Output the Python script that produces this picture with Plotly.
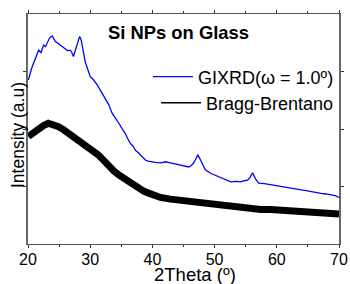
import plotly.graph_objects as go

# GIXRD (omega = 1.0 deg) - blue
gix_x = [20.05, 20.6, 21.1, 21.7, 22.1, 22.5, 22.8, 23.1, 23.5, 23.9, 24.2, 24.4, 24.8, 25.2, 25.6,
         26.0, 26.4, 26.8, 27.0, 27.3, 27.6, 27.85, 28.1, 28.3, 28.55, 28.8, 29.2, 30.0, 30.5,
         31.1, 31.8, 32.4, 33.0, 33.5, 34.1, 34.6, 35.1, 35.6, 36.0, 36.45, 36.9, 37.26, 37.7,
         38.06, 38.5, 38.87, 39.3, 39.68, 40.5, 41.3, 42.1, 42.9, 43.7, 44.5, 45.2, 45.85, 46.2,
         46.56, 46.9, 47.3, 47.6, 48.0, 48.5, 49.35, 50.2, 51.0, 51.7, 52.3, 52.6, 53.4, 54.2,
         54.8, 55.3, 55.7, 56.1, 56.6, 57.1, 58.0, 59.0, 59.8, 60.6, 61.4, 62.3, 63.1, 63.9,
         64.7, 65.5, 66.3, 67.1, 67.9, 68.7, 69.4, 70.0]
gix_y = [2.85, 3.06, 3.20, 3.37, 3.33, 3.46, 3.43, 3.51, 3.59, 3.62, 3.55, 3.52, 3.49, 3.46, 3.42,
         3.40, 3.36, 3.37, 3.34, 3.26, 3.36, 3.46, 3.52, 3.61, 3.55, 3.40, 3.17, 2.91, 2.86,
         2.77, 2.64, 2.54, 2.42, 2.28, 2.19, 2.10, 2.01, 1.93, 1.84, 1.75, 1.70, 1.63, 1.59,
         1.55, 1.49, 1.46, 1.44, 1.43, 1.42, 1.41, 1.43, 1.41, 1.39, 1.37, 1.36, 1.34, 1.36,
         1.40, 1.46, 1.55, 1.49, 1.40, 1.29, 1.23, 1.19, 1.16, 1.13, 1.10, 1.08, 1.09, 1.08,
         1.10, 1.11, 1.16, 1.24, 1.13, 1.06, 1.05, 1.03, 1.02, 1.00, 0.99, 0.97, 0.96, 0.94,
         0.93, 0.91, 0.90, 0.88, 0.87, 0.85, 0.84, 0.81]

# Bragg-Brentano - black
bb_x = [20.05, 20.8, 21.66, 22.5, 23.27, 24.1, 24.9, 25.7, 26.5, 27.3, 28.1, 28.9, 29.7, 30.5,
        31.3, 32.2, 33.0, 33.8, 34.6, 35.4, 36.2, 37.0, 37.8, 38.6, 39.5, 40.4, 41.3, 42.9,
        44.5, 46.1, 47.7, 49.4, 51.0, 52.6, 54.2, 55.8, 57.4, 59.0, 60.6, 62.3, 63.9, 65.5,
        67.1, 68.6, 70.0]
bb_y = [1.87, 1.94, 2.01, 2.06, 2.10, 2.08, 2.04, 1.99, 1.93, 1.86, 1.78, 1.72, 1.66, 1.61,
        1.55, 1.45, 1.34, 1.27, 1.20, 1.14, 1.08, 1.02, 0.97, 0.92, 0.88, 0.84, 0.81, 0.78,
        0.76, 0.73, 0.71, 0.68, 0.66, 0.64, 0.62, 0.61, 0.60, 0.60, 0.59, 0.58, 0.57, 0.56,
        0.54, 0.53, 0.52]

x_ticks = [20, 30, 40, 50, 60, 70]
y_ticks = [1, 2, 3]

FONT = "Liberation Sans, Arial, sans-serif"

fig = go.Figure()
fig.add_trace(go.Scatter(x=gix_x, y=gix_y, mode="lines", name="GIXRD(\u03c9 = 1.0\u00ba)",
                         line=dict(color="#0000ff", width=1.3), legend="legend"))
fig.add_trace(go.Scatter(x=bb_x, y=bb_y, mode="lines", name="Bragg-Brentano",
                         line=dict(color="#000000", width=7), showlegend=False))
# legend entry for the black curve drawn with a thin line as in the reference
fig.add_trace(go.Scatter(x=[None], y=[None], mode="lines", name="Bragg-Brentano",
                         line=dict(color="#000000", width=1.5), legend="legend2"))

L, R, T, B = 28, 339, 14, 244
W, H = 350, 284

def px_x(p):
    return (p - L) / (R - L)

def px_y(p):
    return (B - p) / (B - T)

fig.update_layout(
    width=W, height=H,
    margin=dict(l=L, r=W - R, t=T, b=H - B, autoexpand=False),
    paper_bgcolor="white", plot_bgcolor="white",
    font=dict(family=FONT, size=16, color="black"),
    showlegend=True,
    legend=dict(x=1.0, y=px_y(77), xanchor="right", yanchor="middle",
                bgcolor="rgba(0,0,0,0)", font=dict(size=18), itemwidth=40),
    legend2=dict(x=1.0, y=px_y(103), xanchor="right", yanchor="middle",
                 bgcolor="rgba(0,0,0,0)", font=dict(size=18), itemwidth=40),
    xaxis=dict(range=[20, 70], tickvals=x_ticks, ticktext=[str(v) for v in x_ticks],
               showgrid=False, zeroline=False, showline=True, linecolor="#555", linewidth=1,
               mirror="ticks", ticks="outside", ticklen=3, tickcolor="#333",
               minor=dict(dtick=5, ticks="outside", ticklen=2, tickcolor="#333"),
               tickfont=dict(size=16), automargin=False, ticklabelstandoff=-2),
    yaxis=dict(range=[0, 4], tickvals=y_ticks, showticklabels=False,
               showgrid=False, zeroline=False, showline=True, linecolor="#666", linewidth=1.5,
               mirror="ticks", ticks="outside", ticklen=3, tickcolor="#333", automargin=False),
    annotations=[
        dict(text="<b>Si NPs on Glass</b>", x=px_x(178), y=px_y(33), xref="paper", yref="paper",
             xanchor="center", yanchor="middle", showarrow=False, font=dict(size=18.4)),
        dict(text="2Theta (\u00ba)", x=px_x(195), y=px_y(274), xref="paper", yref="paper",
             xanchor="center", yanchor="middle", showarrow=False, font=dict(size=18.5)),
        dict(text="Intensity (a.u)", x=px_x(18), y=px_y(135), xref="paper", yref="paper",
             xanchor="center", yanchor="middle", showarrow=False, textangle=-90,
             font=dict(size=17.5)),
    ],
)

fig.write_html(
    "out.html",
    config={"displayModeBar": False},
    post_script="document.body.style.margin='0';document.body.style.overflow='hidden';",
)
